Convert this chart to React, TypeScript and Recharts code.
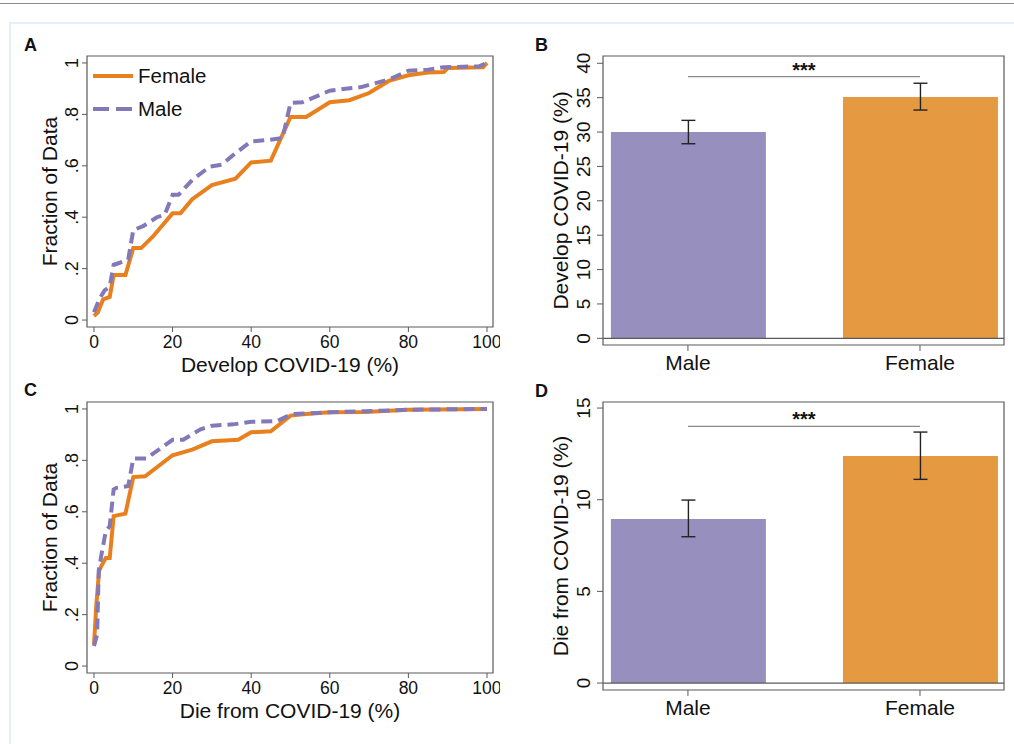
import React from 'react';
import {
  LineChart,
  Line,
  BarChart,
  Bar,
  Cell,
  ErrorBar,
  XAxis,
  YAxis,
  Label,
  Legend,
  ReferenceArea,
  ReferenceLine,
} from 'recharts';

const FONT = '"Liberation Sans", Arial, Helvetica, sans-serif';
const TEXT = '#111';
const FRAME = '#5a5a5a';
const ORANGE_LINE = '#e8801e';
const PURPLE_LINE = '#8378b8';
const ORANGE_BAR = '#e59a42';
const PURPLE_BAR = '#978fbd';

// CDF panels (x = percent, y = fraction of data)
const pctTicks = [0, 20, 40, 60, 80, 100];
const fracTicks = [0, 0.2, 0.4, 0.6, 0.8, 1];

const developFemale = [
  [0, 0.016], [1, 0.03], [2.3, 0.08], [4, 0.09], [5, 0.175], [8, 0.175], [10, 0.28],
  [12, 0.28], [15, 0.325], [20, 0.415], [22, 0.415], [25, 0.47], [30, 0.525], [36, 0.55],
  [40, 0.613], [45, 0.62], [50, 0.79], [54, 0.79], [60, 0.847], [65, 0.855], [70, 0.883],
  [75, 0.93], [80, 0.952], [85, 0.963], [89, 0.965], [90, 0.98], [99, 0.983], [100, 1],
];
const developMale = [
  [0, 0.03], [1.3, 0.08], [2.7, 0.115], [4, 0.13], [5, 0.215], [6, 0.22], [8.7, 0.235],
  [10, 0.35], [12.5, 0.365], [16, 0.4], [18, 0.41], [20, 0.487], [21.5, 0.487], [25, 0.545],
  [29.5, 0.597], [32.5, 0.604], [35.5, 0.643], [40, 0.695], [44, 0.7], [48, 0.708],
  [50, 0.845], [53, 0.847], [60, 0.892], [64, 0.9], [68, 0.906], [75.5, 0.938], [80, 0.97],
  [85, 0.974], [89, 0.983], [98, 0.987], [100, 1],
];
const dieFemale = [
  [0, 0.084], [0.6, 0.24], [1.3, 0.37], [1.9, 0.39], [3, 0.42], [4, 0.42], [5, 0.583],
  [8, 0.593], [10, 0.735], [13, 0.738], [20, 0.82], [25, 0.842], [30, 0.874], [36.7, 0.88],
  [40, 0.909], [45, 0.913], [50, 0.974], [54, 0.98], [60, 0.987], [69, 0.988], [80, 0.997],
  [100, 1],
];
const dieMale = [
  [0, 0.078], [0.8, 0.123], [1.2, 0.37], [1.9, 0.434], [3, 0.525], [4, 0.544], [5, 0.687],
  [5.7, 0.693], [8.7, 0.7], [10, 0.807], [13.3, 0.807], [20, 0.88], [22.7, 0.88], [27, 0.92],
  [30, 0.935], [35.4, 0.94], [40, 0.95], [46.5, 0.952], [50.3, 0.98], [60, 0.987], [69, 0.991],
  [80, 0.997], [100, 1],
];

// bar panels
const groups = ['Male', 'Female'];
const groupColors = [PURPLE_BAR, ORANGE_BAR];
const developMeans = [30.0, 35.1];
const developLow = [28.3, 33.2];
const developHigh = [31.7, 37.1];
const developTicks = [0, 5, 10, 15, 20, 25, 30, 35, 40];
const developStarLevel = 38.05;
const dieMeans = [8.95, 12.38];
const dieLow = [7.98, 11.11];
const dieHigh = [9.98, 13.69];
const dieTicks = [0, 5, 10, 15];
const dieStarLevel = 14.0;

const toPoints = (arr: number[][]) => arr.map(([x, y]) => ({ x, y }));
const fracLabel = (v: number) => (v === 0 ? '0' : v === 1 ? '1' : String(v).replace(/^0/, ''));

function RotatedTick(props: any) {
  const { x, y, payload, fontSize, fmt } = props;
  return (
    <text
      x={x}
      y={y}
      transform={`rotate(-90 ${x} ${y})`}
      textAnchor="middle"
      fill={TEXT}
      fontSize={fontSize}
      fontFamily={FONT}
    >
      {fmt ? fmt(payload.value) : payload.value}
    </text>
  );
}

function xTitle(text: string, dy: number) {
  return (p: any) => {
    const vb = p.viewBox;
    return (
      <text x={vb.x + vb.width / 2} y={vb.y + dy} textAnchor="middle" fill={TEXT} fontSize={21} fontFamily={FONT}>
        {text}
      </text>
    );
  };
}

function yTitle(text: string, bx: number) {
  return (p: any) => {
    const vb = p.viewBox;
    const cy = vb.y + vb.height / 2;
    return (
      <text x={bx} y={cy} transform={`rotate(-90 ${bx} ${cy})`} textAnchor="middle" fill={TEXT} fontSize={21} fontFamily={FONT}>
        {text}
      </text>
    );
  };
}

const legendItems = [
  { name: 'Female', color: ORANGE_LINE, dash: undefined },
  { name: 'Male', color: PURPLE_LINE, dash: '16 7' },
];

function CdfLegend() {
  return (
    <div style={{ fontFamily: FONT, fontSize: 20.5, color: TEXT }}>
      {legendItems.map((it) => (
        <div key={it.name} style={{ display: 'flex', alignItems: 'center', height: 33 }}>
          <svg width={42} height={10} style={{ marginRight: 4 }}>
            <line x1={1} y1={5} x2={41} y2={5} stroke={it.color} strokeWidth={4} strokeDasharray={it.dash} />
          </svg>
          <span>{it.name}</span>
        </div>
      ))}
    </div>
  );
}

interface CdfProps {
  left: number;
  top: number;
  height: number;
  marginTop: number;
  female: number[][];
  male: number[][];
  title: string;
  showLegend?: boolean;
}

function CdfPanel({ left, top, height, marginTop, female, male, title, showLegend }: CdfProps) {
  const xDom = [-1.78, 101.53];
  const yDom = [-0.027, 1.027];
  const xAxisH = height - marginTop - 271;
  return (
    <div style={{ position: 'absolute', left, top }}>
      <LineChart width={500} height={height} margin={{ top: marginTop, right: 7, bottom: 0, left: 0 }}>
        <XAxis
          type="number"
          dataKey="x"
          domain={xDom}
          ticks={pctTicks}
          allowDataOverflow
          axisLine={false}
          tickSize={5}
          tickMargin={4}
          height={xAxisH}
          tickLine={{ stroke: FRAME }}
          tick={{ fill: TEXT, fontSize: 17.5, fontFamily: FONT }}
        >
          <Label content={xTitle(title, 45)} />
        </XAxis>
        <YAxis
          type="number"
          dataKey="y"
          domain={yDom}
          ticks={fracTicks}
          allowDataOverflow
          axisLine={false}
          width={87}
          tickSize={5}
          tickMargin={4}
          tickLine={{ stroke: FRAME }}
          tick={<RotatedTick fontSize={18} fmt={fracLabel} />}
        >
          <Label content={yTitle('Fraction of Data', 57)} />
        </YAxis>
        <ReferenceArea x1={xDom[0]} x2={xDom[1]} y1={yDom[0]} y2={yDom[1]} fill="none" stroke={FRAME} strokeWidth={1.2} ifOverflow="visible" />
        <Line
          data={toPoints(female)}
          dataKey="y"
          name="Female"
          type="linear"
          stroke={ORANGE_LINE}
          strokeWidth={4}
          dot={false}
          activeDot={false}
          isAnimationActive={false}
        />
        <Line
          data={toPoints(male)}
          dataKey="y"
          name="Male"
          type="linear"
          stroke={PURPLE_LINE}
          strokeWidth={4}
          strokeDasharray="11 6"
          dot={false}
          activeDot={false}
          isAnimationActive={false}
        />
        {showLegend && (
          <Legend
            layout="vertical"
            align="center"
            verticalAlign="middle"
            content={<CdfLegend />}
            wrapperStyle={{ left: 92, top: 29, width: 'auto' }}
          />
        )}
      </LineChart>
    </div>
  );
}

interface BarProps {
  left: number;
  top: number;
  height: number;
  marginTop: number;
  means: number[];
  low: number[];
  high: number[];
  ticks: number[];
  yDom: number[];
  star: number;
  title: string;
}

function BarPanel({ left, top, height, marginTop, means, low, high, ticks, yDom, star, title }: BarProps) {
  const xDom = [0.634, 2.362];
  const rows = groups.map((g, i) => ({
    pos: i + 1,
    name: g,
    value: means[i],
    err: [means[i] - low[i], high[i] - means[i]],
  }));
  const plotH = height - marginTop;
  return (
    <div style={{ position: 'absolute', left, top }}>
      <BarChart width={514} height={height} data={rows} margin={{ top: marginTop, right: 10, bottom: 0, left: 0 }}>
        <XAxis
          type="number"
          dataKey="pos"
          domain={xDom}
          ticks={[1, 2]}
          allowDataOverflow
          axisLine={false}
          tickSize={6}
          tickMargin={4}
          height={plotH - (plotH === 324 ? 289 : 288)}
          tickFormatter={(v: number) => groups[v - 1]}
          tickLine={{ stroke: FRAME }}
          tick={{ fill: TEXT, fontSize: 21, fontFamily: FONT }}
        />
        <YAxis
          type="number"
          domain={yDom}
          ticks={ticks}
          allowDataOverflow
          axisLine={false}
          width={103}
          tickSize={6}
          tickMargin={7}
          tickLine={{ stroke: FRAME }}
          tick={<RotatedTick fontSize={19} />}
        >
          <Label content={yTitle(title, 68)} />
        </YAxis>
        <ReferenceArea x1={xDom[0]} x2={xDom[1]} y1={yDom[0]} y2={yDom[1]} fill="none" stroke={FRAME} strokeWidth={1.2} ifOverflow="visible" />
        <Bar dataKey="value" barSize={155} isAnimationActive={false}>
          {rows.map((r, i) => (
            <Cell key={r.name} fill={groupColors[i]} />
          ))}
          <ErrorBar dataKey="err" width={7} stroke="#222" strokeWidth={1.4} direction="y" />
        </Bar>
        <ReferenceLine y={0} stroke={FRAME} strokeWidth={1.2} />
        <ReferenceLine
          segment={[{ x: 1, y: star }, { x: 2, y: star }]}
          stroke="#8a8a8a"
          strokeWidth={1.2}
          label={{ value: '***', position: 'top', offset: 0, fill: TEXT, fontSize: 20, fontWeight: 'bold', fontFamily: FONT }}
        />
      </BarChart>
    </div>
  );
}

const letterStyle: React.CSSProperties = {
  position: 'absolute',
  fontFamily: FONT,
  fontWeight: 'bold',
  fontSize: 18,
  lineHeight: '18px',
  color: TEXT,
};

export default function App() {
  return (
    <div
      style={{
        position: 'absolute',
        left: 0,
        top: 0,
        width: 1014,
        height: 744,
        background: '#fff',
        overflow: 'hidden',
        fontFamily: FONT,
      }}
    >
      <div style={{ position: 'absolute', left: 0, top: 3, width: 1014, height: 1, background: '#8c8c8c' }} />
      <div
        style={{
          position: 'absolute',
          left: 9,
          top: 22,
          width: 1014,
          height: 740,
          borderLeft: '2px solid #e8eef5',
          borderTop: '2px solid #e8eef5',
        }}
      />
      <CdfPanel left={0} top={30} height={350} marginTop={26} female={developFemale} male={developMale} title="Develop COVID-19 (%)" showLegend />
      <CdfPanel left={0} top={370} height={370} marginTop={32} female={dieFemale} male={dieMale} title="Die from COVID-19 (%)" />
      <BarPanel
        left={500}
        top={30}
        height={350}
        marginTop={26}
        means={developMeans}
        low={developLow}
        high={developHigh}
        ticks={developTicks}
        yDom={[-0.97, 41.06]}
        star={developStarLevel}
        title="Develop COVID-19 (%)"
      />
      <BarPanel
        left={500}
        top={370}
        height={370}
        marginTop={32}
        means={dieMeans}
        low={dieLow}
        high={dieHigh}
        ticks={dieTicks}
        yDom={[-0.38, 15.33]}
        star={dieStarLevel}
        title="Die from COVID-19 (%)"
      />
      <div style={{ ...letterStyle, left: 24, top: 36 }}>A</div>
      <div style={{ ...letterStyle, left: 535, top: 36 }}>B</div>
      <div style={{ ...letterStyle, left: 24, top: 381 }}>C</div>
      <div style={{ ...letterStyle, left: 535, top: 382 }}>D</div>
    </div>
  );
}
